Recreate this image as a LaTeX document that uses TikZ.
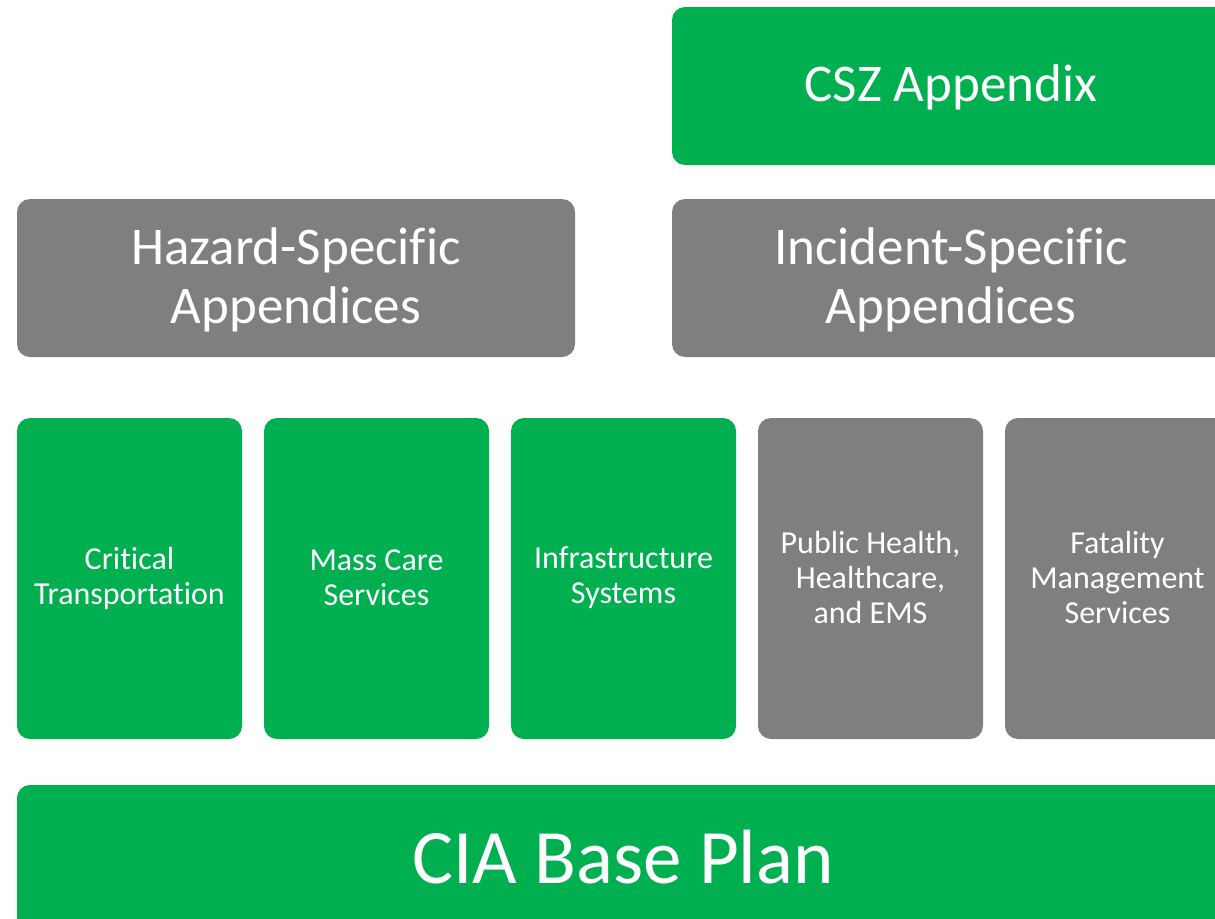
\documentclass[tikz,border=0pt]{standalone}
\usepackage{fontspec}
\setmainfont{Carlito}[Ligatures=NoCommon]
\definecolor{gr}{HTML}{00B050}
\definecolor{gy}{HTML}{7F7F7F}
\begin{document}
\begin{tikzpicture}[x=1pt,y=-1pt,
  box/.style={rounded corners=13pt,text=white,align=center,inner sep=0pt},
  big/.style={font=\fontsize{53}{59}\selectfont},
  small/.style={font=\fontsize{32}{35}\selectfont}]
\useasboundingbox (0,0) rectangle (1215,918);
\clip (0,0) rectangle (1215,918);
% CSZ
\fill[gr,rounded corners=13pt] (672,7) rectangle (1230,165);
\node[box,big] (csz) at (951,87) {CSZ Appendix};
% Hazard / Incident
\fill[gy,rounded corners=13pt] (17,199) rectangle (575,357);
\node[box,big] (haz) at (296,280) {Hazard-Specific\\Appendices};
\fill[gy,rounded corners=13pt] (672,199) rectangle (1230,357);
\node[box,big] (inc) at (951,280) {Incident-Specific\\Appendices};
% small boxes
\fill[gr,rounded corners=13pt] (17,418) rectangle (242,739);
\node[box,small] (ct) at (129.5,578) {Critical\\Transportation};
\fill[gr,rounded corners=13pt] (264,418) rectangle (489,739);
\node[box,small] (mc) at (376.5,578) {Mass Care\\Services};
\fill[gr,rounded corners=13pt] (511,418) rectangle (736,739);
\node[box,small] (is) at (623.5,578) {Infrastructure\\Systems};
\fill[gy,rounded corners=13pt] (758,418) rectangle (983,739);
\node[box,small] (ph) at (870.5,577.5) {Public Health,\\Healthcare,\\and EMS};
\fill[gy,rounded corners=13pt] (1005,418) rectangle (1230,739);
\node[box,small] (fm) at (1117.5,577.5) {Fatality\\Management\\Services};
% base
\fill[gr,rounded corners=13pt] (17,785) rectangle (1230,945);
\node[box,font=\fontsize{77}{90}\selectfont] (base) at (623,857) {CIA Base Plan};
\end{tikzpicture}
\end{document}
